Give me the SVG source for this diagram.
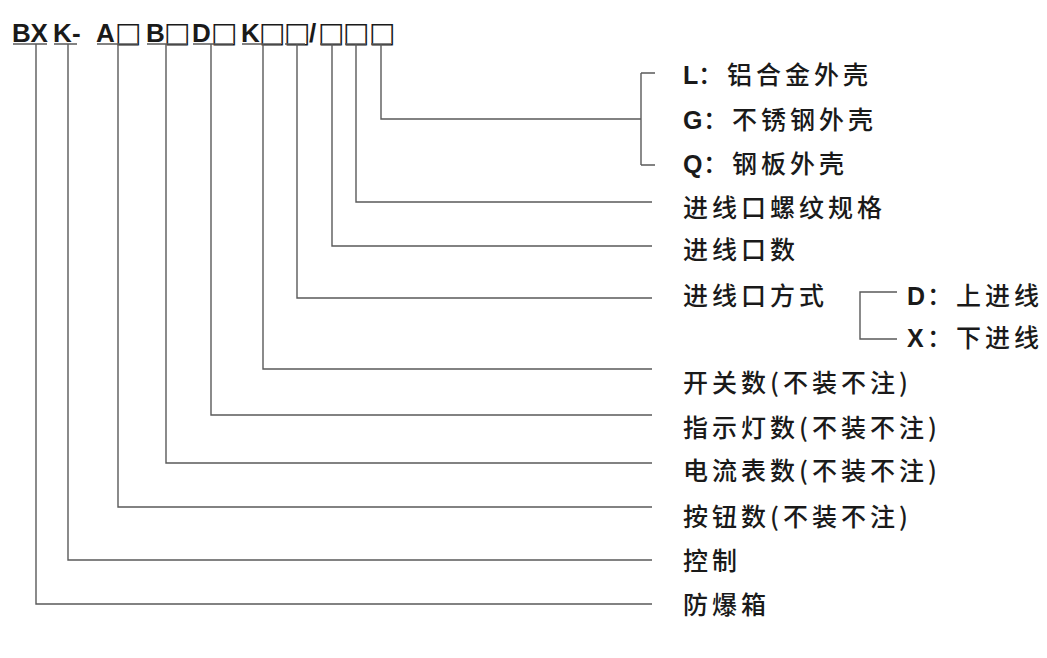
<svg xmlns="http://www.w3.org/2000/svg" width="1047" height="658" viewBox="0 0 1047 658">
<style>
.ln{fill:none;stroke:#5a5a5a;stroke-width:1.4}
.code{font-family:"Liberation Sans",Arial,sans-serif;font-weight:bold;font-size:26px;fill:#1a1a1a}
.sq{font-family:"DejaVu Sans",sans-serif;font-size:28px;fill:#1a1a1a}
.cn{font-family:"Noto Sans CJK SC",sans-serif;font-weight:500;font-size:25px;letter-spacing:4px;fill:#1a1a1a}
.lt{font-family:"Liberation Sans",Arial,sans-serif;font-weight:bold;font-size:25px;fill:#1a1a1a}
</style>
<rect width="1047" height="658" fill="#ffffff"/>
<g id="code">
<text class="code" y="42"><tspan x="12">B</tspan><tspan x="30.5">X</tspan><tspan x="53">K</tspan><tspan x="72">-</tspan><tspan x="96">A</tspan><tspan x="146">B</tspan><tspan x="192">D</tspan><tspan x="241">K</tspan><tspan x="309">/</tspan></text>
<text class="sq" y="41.5"><tspan x="115">□</tspan><tspan x="164">□</tspan><tspan x="211">□</tspan><tspan x="259">□</tspan><tspan x="284">□</tspan><tspan x="318">□</tspan><tspan x="343">□</tspan><tspan x="369">□</tspan></text>
</g>
<g id="connectors">
<path class="ln" d="M13 44H47M54 44H77M97 44H138M147 44H187M193 44H233M242 44H281M285 44H305M320 44H341M345 44H366M371 44H391"/>
<path class="ln" d="M381 44V119H641M641 73V165M641 73H655M641 165H655"/>
<path class="ln" d="M356 44V202H652"/>
<path class="ln" d="M332 44V246H652"/>
<path class="ln" d="M297 44V298H652"/>
<path class="ln" d="M263 44V369H652"/>
<path class="ln" d="M211 44V415H652"/>
<path class="ln" d="M166 44V463H652"/>
<path class="ln" d="M118 44V507H652"/>
<path class="ln" d="M68 44V560H652"/>
<path class="ln" d="M36 44V604H652"/>
<path class="ln" d="M897 292H860V339H897"/>
</g>
<g id="n-L"><text y="84"><tspan class="lt" x="683">L</tspan><tspan class="cn" x="698">：</tspan><tspan class="cn" x="727">铝合金外壳</tspan></text></g>
<g id="n-G"><text y="129"><tspan class="lt" x="683">G</tspan><tspan class="cn" x="703">：</tspan><tspan class="cn" x="732">不锈钢外壳</tspan></text></g>
<g id="n-Q"><text y="173"><tspan class="lt" x="683">Q</tspan><tspan class="cn" x="703">：</tspan><tspan class="cn" x="732">钢板外壳</tspan></text></g>
<g id="n-thread"><text class="cn" x="683" y="217">进线口螺纹规格</text></g>
<g id="n-count"><text class="cn" x="683" y="259">进线口数</text></g>
<g id="n-mode"><text class="cn" x="683" y="305">进线口方式</text></g>
<g id="n-D"><text y="305"><tspan class="lt" x="907">D</tspan><tspan class="cn" x="927">：</tspan><tspan class="cn" x="956">上进线</tspan></text></g>
<g id="n-X"><text y="347"><tspan class="lt" x="907">X</tspan><tspan class="cn" x="927">：</tspan><tspan class="cn" x="956">下进线</tspan></text></g>
<g id="n-switch"><text class="cn" x="683" y="392">开关数(不装不注)</text></g>
<g id="n-lamp"><text class="cn" x="683" y="437">指示灯数(不装不注)</text></g>
<g id="n-meter"><text class="cn" x="683" y="480">电流表数(不装不注)</text></g>
<g id="n-button"><text class="cn" x="683" y="526">按钮数(不装不注)</text></g>
<g id="n-control"><text class="cn" x="683" y="570">控制</text></g>
<g id="n-box"><text class="cn" x="683" y="614">防爆箱</text></g>
</svg>
